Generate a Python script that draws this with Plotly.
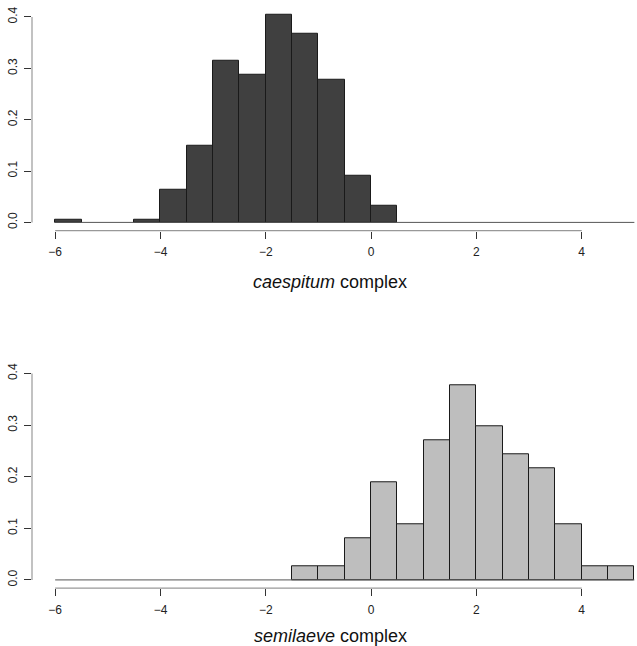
import plotly.graph_objects as go

# bin edges (width 0.5) from -6 to 5
bin_left = [-6.0, -5.5, -5.0, -4.5, -4.0, -3.5, -3.0, -2.5, -2.0, -1.5, -1.0,
            -0.5, 0.0, 0.5, 1.0, 1.5, 2.0, 2.5, 3.0, 3.5, 4.0, 4.5]
bin_width = 0.5

# densities
caespitum = [0.0053, 0.0, 0.0, 0.0053, 0.064, 0.149, 0.315, 0.288, 0.405, 0.368, 0.277,
             0.091, 0.032, 0.0, 0.0, 0.0, 0.0, 0.0, 0.0, 0.0, 0.0, 0.0]
semilaeve = [0.0, 0.0, 0.0, 0.0, 0.0, 0.0, 0.0, 0.0, 0.0, 0.027, 0.027,
             0.081, 0.189, 0.108, 0.270, 0.378, 0.297, 0.243, 0.216, 0.108, 0.027, 0.027]

x_ticks = [-6, -4, -2, 0, 2, 4]
x_tick_text = ["\u22126", "\u22124", "\u22122", "0", "2", "4"]
y_ticks = [0.0, 0.1, 0.2, 0.3, 0.4]
y_tick_text = ["0.0", "0.1", "0.2", "0.3", "0.4"]

titles = ["<i>caespitum</i> complex", "<i>semilaeve</i> complex"]
fills = ["#404040", "#bebebe"]

x_range = [-6.44, 5.05]
y_range = [-0.016, 0.416]
domains = [[0.645, 0.9895], [0.0898, 0.4359]]
title_y = [0.5655, 0.0155]

fig = go.Figure()
edges = bin_left + [bin_left[-1] + bin_width]
for i, (vals, fill) in enumerate(zip([caespitum, semilaeve], fills)):
    xa = "x" if i == 0 else "x2"
    ya = "y" if i == 0 else "y2"
    nz_x = [b + bin_width / 2 for b, v in zip(bin_left, vals) if v > 0]
    nz_y = [v for v in vals if v > 0]
    # baseline for empty bins
    fig.add_trace(go.Scatter(x=edges, y=[0] * len(edges), mode="lines",
                             line=dict(color="#555555", width=1),
                             xaxis=xa, yaxis=ya, showlegend=False, hoverinfo="skip"))
    fig.add_trace(go.Bar(x=nz_x, y=nz_y, width=bin_width,
                         marker=dict(color=fill, line=dict(color="#1a1a1a", width=1)),
                         xaxis=xa, yaxis=ya, showlegend=False))

font = dict(family="Liberation Sans, Arial, sans-serif", size=12, color="#222222")
layout = dict(
    width=637, height=646,
    margin=dict(l=32, r=0, t=0, b=0),
    paper_bgcolor="white", plot_bgcolor="white",
    bargap=0, font=font,
)
for i in range(2):
    sx = "" if i == 0 else "2"
    layout["xaxis" + sx] = dict(
        domain=[0, 1], anchor="y" + sx, range=x_range, showgrid=False, zeroline=False,
        showline=False, ticks="outside", ticklen=7, tickcolor="#333333", tickwidth=1,
        tickvals=x_ticks, ticktext=x_tick_text, tickfont=font, ticklabelstandoff=3)
    layout["yaxis" + sx] = dict(
        domain=domains[i], anchor="x" + sx, range=y_range, showgrid=False, zeroline=False,
        showline=False, ticks="outside", ticklen=7, tickcolor="#333333", tickwidth=1,
        tickvals=y_ticks, ticktext=y_tick_text, tickangle=-90, tickfont=font,
        ticklabelstandoff=2)
fig.update_layout(**layout)

shapes = []
annotations = []
for i in range(2):
    sx = "" if i == 0 else "2"
    shapes.append(dict(type="line", xref="x" + sx, yref="y" + sx + " domain",
                       x0=min(x_ticks), x1=max(x_ticks), y0=0, y1=0,
                       line=dict(color="#999999", width=1.2)))
    shapes.append(dict(type="line", xref="x" + sx + " domain", yref="y" + sx,
                       x0=0, x1=0, y0=min(y_ticks), y1=max(y_ticks),
                       line=dict(color="#999999", width=1.2)))
    annotations.append(dict(text=titles[i], xref="paper", yref="paper",
                            x=0.4926, y=title_y[i], showarrow=False,
                            xanchor="center", yanchor="middle",
                            font=dict(family="Liberation Sans, Arial, sans-serif",
                                      size=18, color="#111111")))
fig.update_layout(shapes=shapes, annotations=annotations)

fig.write_html("out.html")
